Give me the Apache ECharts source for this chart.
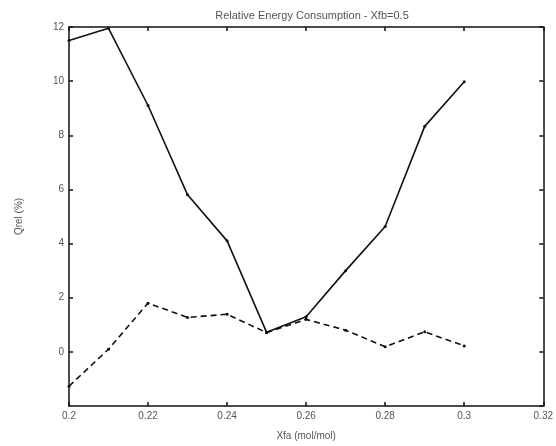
<!DOCTYPE html>
<html>
<head>
<meta charset="utf-8">
<script src="https://cdn.jsdelivr.net/npm/echarts@6/dist/echarts.min.js"></script>
<style>html,body{margin:0;padding:0;background:#fff}#c{width:556px;height:446px}</style>
</head>
<body>
<div id="c"></div>
<script>
const xfa = [0.20, 0.21, 0.22, 0.23, 0.24, 0.25, 0.26, 0.27, 0.28, 0.29, 0.30];
const qrelSolid = [11.5, 11.95, 9.1, 5.8, 4.1, 0.72, 1.3, 3.0, 4.63, 8.33, 9.98];
const qrelDashed = [-1.27, 0.1, 1.8, 1.27, 1.39, 0.71, 1.2, 0.8, 0.19, 0.74, 0.22];
const titleText = 'Relative Energy Consumption - Xfb=0.5';
const xName = 'Xfa (mol/mol)';
const yName = 'Qrel (%)';

const font = 'Liberation Sans, Arial, sans-serif';
const fs = 10;
const txt = '#555';
const chart = echarts.init(document.getElementById('c'));
const pair = (xs, ys) => xs.map((x, i) => [x, ys[i]]);
const axisLine = {show: true, onZero: false, lineStyle: {color: '#111', width: 1.5}};
const tick = {show: true, inside: true, length: 4, lineStyle: {color: '#111', width: 1.5}};
chart.setOption({
  animation: false,
  title: {text: titleText, left: 307, top: 5, textAlign: 'center',
    textStyle: {fontFamily: font, fontSize: 11, fontWeight: 'normal', color: txt}},
  grid: {left: 69, right: 8, top: 27, bottom: 39, containLabel: false},
  xAxis: [{
    type: 'value', min: 0.2, max: 0.32, interval: 0.02, position: 'bottom',
    name: xName, nameLocation: 'middle', nameGap: 25,
    nameTextStyle: {fontFamily: font, fontSize: fs, color: txt},
    axisLine, axisTick: tick, splitLine: {show: false},
    axisLabel: {fontFamily: font, fontSize: fs, color: txt, margin: 5,
      formatter: v => String(parseFloat(v.toFixed(2)))}
  }, {
    type: 'value', min: 0.2, max: 0.32, interval: 0.02, position: 'top',
    axisLine, axisTick: tick, axisLabel: {show: false}, splitLine: {show: false}
  }],
  yAxis: [{
    type: 'value', min: -2, max: 12, interval: 2, position: 'left',
    name: yName, nameLocation: 'middle', nameGap: 45, nameRotate: 90,
    nameTextStyle: {fontFamily: font, fontSize: fs, color: txt},
    axisLine, axisTick: tick, splitLine: {show: false},
    axisLabel: {fontFamily: font, fontSize: fs, color: txt, margin: 5, showMinLabel: false}
  }, {
    type: 'value', min: -2, max: 12, interval: 2, position: 'right',
    axisLine, axisTick: tick, axisLabel: {show: false}, splitLine: {show: false}
  }],
  series: [{
    type: 'line', data: pair(xfa, qrelSolid), symbol: 'circle', symbolSize: 3,
    lineStyle: {color: '#111', width: 1.6, type: 'solid'}, itemStyle: {color: '#111'}
  }, {
    type: 'line', data: pair(xfa, qrelDashed), symbol: 'circle', symbolSize: 3,
    lineStyle: {color: '#111', width: 1.6, type: [6, 4]}, itemStyle: {color: '#111'}
  }]
});
</script>
</body>
</html>
